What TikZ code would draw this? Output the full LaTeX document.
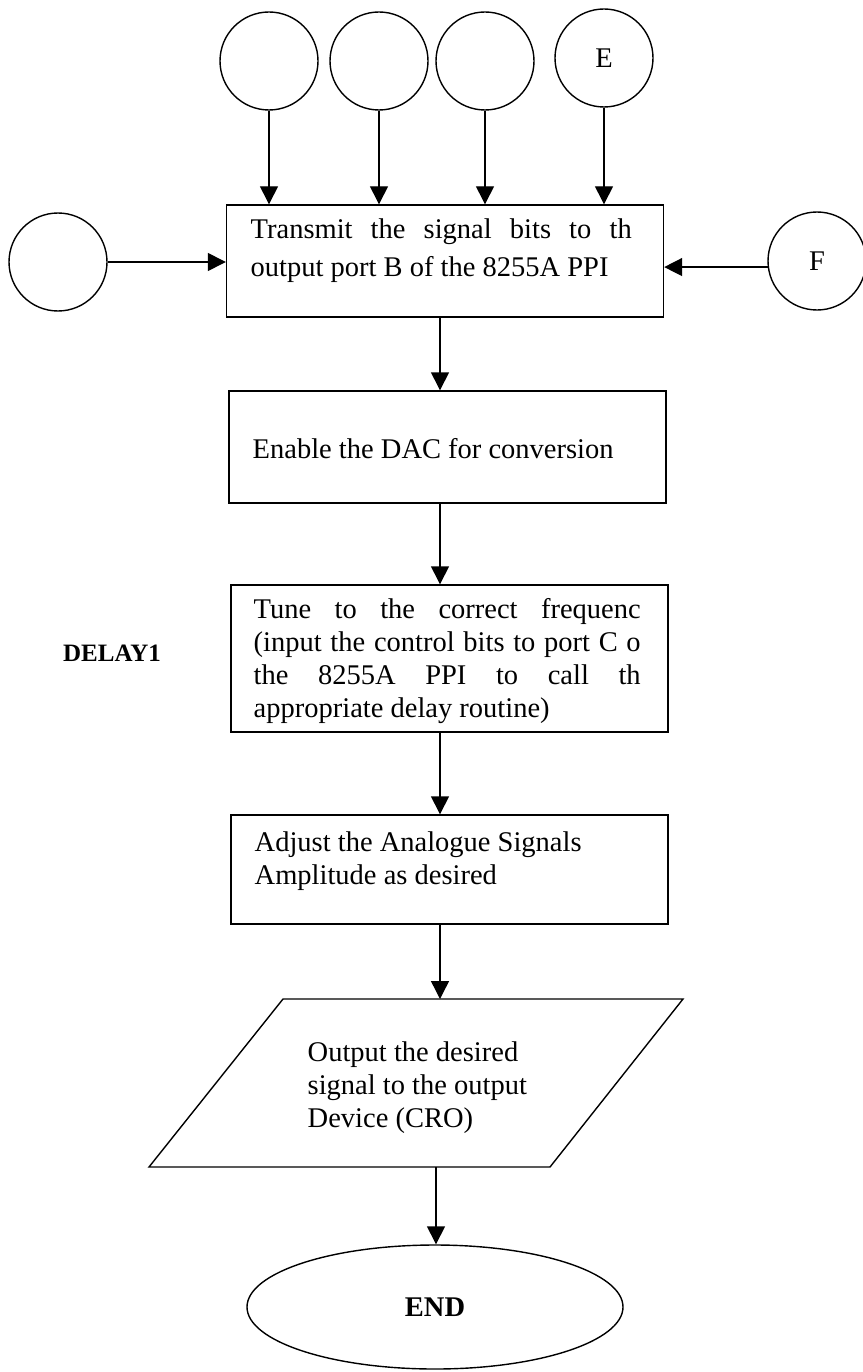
\documentclass[tikz,border=0pt]{standalone}
\usepackage{fontspec}
\setmainfont{Liberation Serif}
\usetikzlibrary{arrows.meta,shapes.geometric}

\begin{document}
\begin{tikzpicture}[x=1pt,y=-1pt,
  line width=1.4pt,
  every node/.style={font=\fontsize{28.5pt}{33pt}\selectfont, inner sep=0pt},
  conn/.style={circle, draw, minimum size=98pt},
  procbox/.style={rectangle, draw, minimum width=437pt},
  boxtext/.style={align=left, anchor=west},
  arr/.style={-{Triangle[width=18pt,length=18pt]}},
  terminal/.style={ellipse, draw, minimum width=376pt, minimum height=124pt,
                   font=\fontsize{28.5pt}{33pt}\selectfont\bfseries}
]
\useasboundingbox (0,0) rectangle (862,1372);

% connector circles feeding the first step
\node[conn] (c1) at (269,61) {};
\node[conn] (c2) at (379,61) {};
\node[conn] (c3) at (485,61) {};
\node[conn] (cE) at (604,58) {E};
\node[conn] (cL) at (58,262) {};
\node[conn] (cF) at (817,261) {F};

% process steps
\node[procbox, minimum height=112pt] (b1) at (445,261) {};
\node[procbox, minimum height=112pt] (b2) at (447.5,447) {};
\node[procbox, minimum height=147pt] (b3) at (449.5,658.5) {};
\node[procbox, minimum height=109pt] (b4) at (449.5,869.5) {};

\node[boxtext, font=\fontsize{28.5pt}{38pt}\selectfont] (t1) at (250,251)
  {\makebox[381pt][s]{Transmit the signal bits to th}\\output port B of the 8255A PPI};
\node[boxtext] (t2) at (252,449) {Enable the DAC for conversion};
\node[boxtext] (t3) at (253,661)
  {\makebox[387pt][s]{Tune to the correct frequenc}\\
   \makebox[387pt][s]{(input the control bits to port C o}\\
   \makebox[387pt][s]{the 8255A PPI to call th}\\
   appropriate delay routine)};
\node[boxtext] (t4) at (254,861) {Adjust the Analogue Signals\\Amplitude as desired};

\node[font=\fontsize{25pt}{30pt}\selectfont\bfseries] (delay) at (112,653) {DELAY1};

% output (parallelogram)
\coordinate (p1) at (283,999);
\coordinate (p2) at (683,999);
\coordinate (p3) at (550,1167);
\coordinate (p4) at (149,1167);
\draw (p1) -- (p2) -- (p3) -- (p4) -- cycle;
\node[boxtext] (t5) at (307,1088) {Output the desired\\signal to the output\\Device (CRO)};

% terminal
\node[terminal] (endn) at (435,1307) {END};

% flow
\coordinate (axis) at (440,0);
\coordinate (ptop) at (440,999);
\coordinate (pbot) at (436,1167);

\foreach \c in {c1,c2,c3,cE}
  \draw[arr] (\c.south) -- (\c.south |- b1.north);
\draw[arr] (cL.east) -- (cL.east -| b1.west);
\draw[arr] (cF.187) -- (cF.187 -| b1.east);

\draw[arr] (b1.south -| axis) -- (b2.north -| axis);
\draw[arr] (b2.south -| axis) -- (b3.north -| axis);
\draw[arr] (b3.south -| axis) -- (b4.north -| axis);
\draw[arr] (b4.south -| axis) -- (ptop);
\draw[arr] (pbot) -- (endn.north -| pbot);
\end{tikzpicture}
\end{document}
